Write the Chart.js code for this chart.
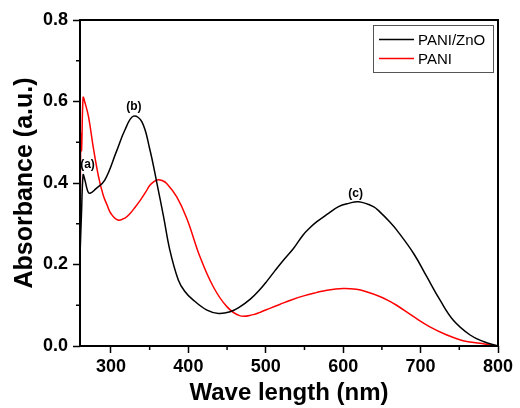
<!DOCTYPE html>
<html>
<head>
<meta charset="utf-8">
<script src="https://cdn.jsdelivr.net/npm/chart.js@4.4.1/dist/chart.umd.min.js"></script>
<style>
  html, body { margin: 0; padding: 0; background: #fff; }
</style>
</head>
<body>
<canvas id="uvChart" width="520" height="408"></canvas>
<script>
// PANI/ZnO spectrum (black)
const znoNm = [260, 262, 264, 266, 270, 273, 280, 292, 307, 318, 329, 340, 350, 359, 368, 376, 387, 395, 405, 424, 439, 454, 465, 480, 493, 501, 512, 523, 536, 548, 557, 566, 579, 594, 607, 620, 639, 648, 660, 669, 691, 708, 725, 742, 764, 781, 800];
const znoAbs = [0.22, 0.33, 0.42, 0.41, 0.38, 0.375, 0.385, 0.407, 0.477, 0.53, 0.564, 0.55, 0.484, 0.403, 0.317, 0.236, 0.162, 0.135, 0.115, 0.088, 0.08, 0.084, 0.094, 0.115, 0.14, 0.158, 0.185, 0.211, 0.24, 0.272, 0.29, 0.305, 0.323, 0.342, 0.35, 0.354, 0.342, 0.328, 0.305, 0.285, 0.227, 0.17, 0.113, 0.064, 0.027, 0.011, 0];

// PANI spectrum (red)
const paniNm = [260, 261, 262, 264, 266, 271, 277, 284, 290, 295, 300, 309, 318, 325, 331, 338, 345, 350, 356, 361, 366, 372, 385, 398, 415, 432, 450, 467, 484, 493, 506, 518, 533, 549, 565, 579, 600, 617, 630, 648, 661, 669, 691, 712, 734, 755, 777, 800];
const paniAbs = [0.19, 0.52, 0.48, 0.61, 0.6, 0.563, 0.489, 0.415, 0.37, 0.346, 0.325, 0.309, 0.314, 0.326, 0.34, 0.358, 0.378, 0.394, 0.404, 0.408, 0.406, 0.399, 0.366, 0.313, 0.219, 0.146, 0.096, 0.074, 0.077, 0.083, 0.093, 0.102, 0.113, 0.123, 0.131, 0.137, 0.141, 0.139, 0.133, 0.121, 0.109, 0.1, 0.072, 0.047, 0.027, 0.013, 0.0066, 0];

const seriesNames = ['PANI/ZnO', 'PANI'];
const seriesColors = ['#000000', '#ff0000'];

// peak labels
const peakText = ['(a)', '(b)', '(c)'];
const peakNm = [269.7, 329.5, 616];
const peakAbs = [0.444, 0.587, 0.375];

const xMinorTicks = [350, 450, 550, 650, 750];
const yMinorTicks = [0.1, 0.3, 0.5, 0.7];

const FONT = '"Liberation Sans", Arial, sans-serif';

function toPoints(xs, ys) {
  return xs.map((x, i) => ({ x, y: ys[i] }));
}

const framePlugin = {
  id: 'frame',
  afterDraw(chart) {
    const { ctx, chartArea: a, scales } = chart;
    ctx.save();
    ctx.strokeStyle = '#000';
    ctx.lineWidth = 1.5;
    ctx.beginPath();
    xMinorTicks.forEach((v) => {
      const px = scales.x.getPixelForValue(v);
      ctx.moveTo(px, a.bottom);
      ctx.lineTo(px, a.bottom + 4);
    });
    yMinorTicks.forEach((v) => {
      const py = scales.y.getPixelForValue(v);
      ctx.moveTo(a.left, py);
      ctx.lineTo(a.left - 4, py);
    });
    ctx.stroke();

    ctx.lineWidth = 2;
    ctx.strokeRect(a.left, a.top, a.right - a.left, a.bottom - a.top);

    // peak labels
    ctx.fillStyle = '#000';
    ctx.font = 'bold 12px ' + FONT;
    ctx.textAlign = 'center';
    ctx.textBaseline = 'middle';
    peakText.forEach((t, i) => {
      ctx.fillText(t, scales.x.getPixelForValue(peakNm[i]), scales.y.getPixelForValue(peakAbs[i]));
    });

    // legend box
    const bx = 373, by = 25, bw = 120, bh = 47;
    ctx.strokeStyle = '#555';
    ctx.lineWidth = 1;
    ctx.strokeRect(bx + 0.5, by + 0.5, bw, bh);
    ctx.font = '15px ' + FONT;
    ctx.textAlign = 'left';
    chart.data.datasets.forEach((ds, i) => {
      const ly = by + 14.5 + i * 19;
      ctx.strokeStyle = ds.borderColor;
      ctx.lineWidth = 1.5;
      ctx.beginPath();
      ctx.moveTo(bx + 6, ly);
      ctx.lineTo(bx + 41, ly);
      ctx.stroke();
      ctx.fillStyle = '#000';
      ctx.fillText(ds.label, bx + 45, ly + 1);
    });
    ctx.restore();
  }
};

new Chart(document.getElementById('uvChart'), {
  type: 'line',
  data: {
    datasets: [
      { label: seriesNames[0], data: toPoints(znoNm, znoAbs), borderColor: seriesColors[0], borderWidth: 1.5, pointRadius: 0, tension: 0.4, fill: false },
      { label: seriesNames[1], data: toPoints(paniNm, paniAbs), borderColor: seriesColors[1], borderWidth: 1.5, pointRadius: 0, tension: 0.4, fill: false },
    ]
  },
  options: {
    responsive: false,
    animation: false,
    layout: { padding: { top: 20, right: 22, left: 0, bottom: 0 } },
    plugins: { legend: { display: false }, tooltip: { enabled: false } },
    scales: {
      x: {
        type: 'linear', min: 260, max: 800,
        afterFit: (s) => { s.height = 62; },
        border: { display: false },
        grid: { drawOnChartArea: false, tickLength: 7, tickColor: '#000', tickWidth: 1.5 },
        ticks: { stepSize: 100, includeBounds: false, color: '#000', padding: 3, maxRotation: 0, font: { family: FONT, size: 18, weight: 'bold' } },
        title: { display: true, text: 'Wave length (nm)', color: '#000', padding: { top: 0, bottom: 0 }, font: { family: FONT, size: 24, weight: 'bold' } }
      },
      y: {
        min: 0, max: 0.8,
        afterFit: (s) => { s.width = 80; },
        border: { display: false },
        grid: { drawOnChartArea: false, tickLength: 7, tickColor: '#000', tickWidth: 1.5 },
        ticks: { stepSize: 0.2, color: '#000', padding: 5, callback: (v) => v.toFixed(1), font: { family: FONT, size: 18, weight: 'bold' } },
        title: { display: true, text: 'Absorbance (a.u.)', color: '#000', padding: { top: 10, bottom: 0 }, font: { family: FONT, size: 25, weight: 'bold' } }
      }
    }
  },
  plugins: [framePlugin]
});
</script>
</body>
</html>
